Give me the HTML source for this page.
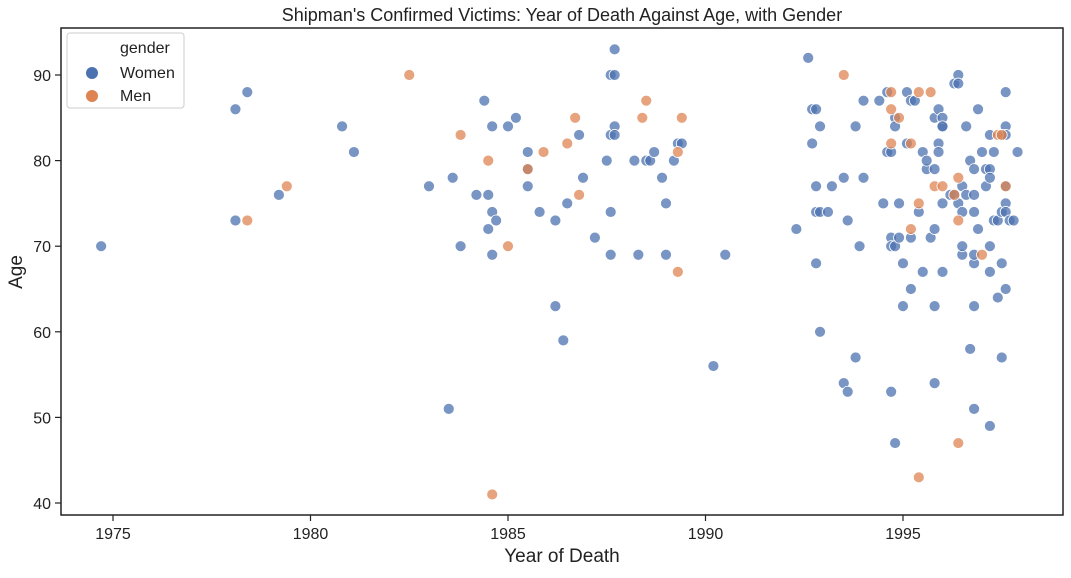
<!DOCTYPE html>
<html><head><meta charset="utf-8"><style>
body{margin:0;background:#fff;font-family:"Liberation Sans","DejaVu Sans",sans-serif}
svg text{font-family:"Liberation Sans","DejaVu Sans",sans-serif;fill:#222}
</style></head><body>
<svg id="c" width="1071" height="573">
<text x="562" y="21" font-size="18" text-anchor="middle">Shipman's Confirmed Victims: Year of Death Against Age, with Gender</text>
<g id="pts"></g>
<rect x="61" y="28" width="1002" height="487" fill="none" stroke="#222" stroke-width="1.5"/>
<g id="axes"></g>
<text x="562" y="562" font-size="19" text-anchor="middle">Year of Death</text>
<text x="22" y="272" font-size="19" text-anchor="middle" transform="rotate(-90 22 272)">Age</text>
<g>
<rect x="67" y="33" width="117" height="75" fill="#fff" fill-opacity="0.8" stroke="#ccc" rx="3"/>
<text x="120" y="53" font-size="16">gender</text>
<circle cx="92" cy="73" r="6" fill="#4c72b0"/><text x="120" y="78" font-size="16">Women</text>
<circle cx="92" cy="96" r="6" fill="#dd8452"/><text x="120" y="101" font-size="16">Men</text>
</g>
</svg>
<script>
const xTicks=[1975,1980,1985,1990,1995];
const yTicks=[40,50,60,70,80,90];
const womenYears=[1974.7,1978.1,1978.1,1978.4,1979.2,1980.8,1981.1,1983.0,1983.6,1983.5,1983.8,1984.2,1984.4,1984.5,1984.5,1984.6,1984.6,1984.6,1984.7,1985.0,1985.2,1985.5,1985.5,1985.5,1985.8,1986.2,1986.2,1986.4,1986.5,1986.8,1986.9,1987.2,1987.5,1987.6,1987.6,1987.6,1987.6,1987.7,1987.7,1987.7,1987.7,1988.2,1988.3,1988.5,1988.6,1988.7,1988.9,1989.0,1989.0,1989.2,1989.3,1989.4,1990.2,1990.5,1992.3,1992.6,1992.7,1992.7,1992.8,1992.8,1992.8,1992.8,1992.9,1992.9,1992.9,1993.1,1993.2,1993.5,1993.5,1993.6,1993.6,1993.8,1993.8,1993.9,1994.0,1994.0,1994.4,1994.5,1994.6,1994.6,1994.7,1994.7,1994.7,1994.7,1994.8,1994.8,1994.8,1994.9,1994.8,1994.9,1995.0,1995.0,1995.1,1995.1,1995.2,1995.2,1995.3,1995.2,1995.4,1995.5,1995.5,1995.6,1995.6,1995.7,1995.8,1995.8,1995.8,1995.8,1995.8,1995.9,1995.9,1995.9,1996.0,1996.0,1996.0,1996.0,1996.0,1996.2,1996.3,1996.3,1996.4,1996.4,1996.4,1996.5,1996.5,1996.5,1996.5,1996.6,1996.6,1996.7,1996.7,1996.8,1996.8,1996.8,1996.8,1996.8,1996.8,1996.8,1996.9,1996.9,1997.0,1997.1,1997.1,1997.2,1997.2,1997.2,1997.2,1997.2,1997.2,1997.3,1997.3,1997.4,1997.4,1997.5,1997.5,1997.5,1997.5,1997.6,1997.6,1997.6,1997.6,1997.6,1997.6,1997.6,1997.7,1997.8,1997.9];
const womenAges=[70,86,73,88,76,84,81,77,78,51,70,76,87,76,72,74,84,69,73,84,85,77,81,79,74,73,63,59,75,83,78,71,80,74,69,90,83,93,90,84,83,80,69,80,80,81,78,69,75,80,82,82,56,69,72,92,86,82,86,74,77,68,60,84,74,74,77,78,54,53,73,84,57,70,87,78,87,75,81,88,81,71,70,53,85,84,70,75,47,71,68,63,82,88,65,87,87,71,74,67,81,79,80,71,85,79,72,54,63,86,82,81,84,85,67,84,75,76,89,76,90,75,89,69,70,74,77,76,84,80,58,76,74,63,79,68,51,69,72,86,81,79,77,79,83,78,67,70,49,81,73,73,64,83,74,57,68,75,77,74,84,88,65,83,73,73,81];
const menYears=[1978.4,1979.4,1982.5,1983.8,1984.5,1984.6,1985.0,1985.5,1985.9,1986.5,1986.7,1986.8,1988.4,1988.5,1989.3,1989.4,1989.3,1993.5,1994.7,1994.7,1994.7,1994.9,1995.2,1995.2,1995.4,1995.4,1995.4,1995.7,1995.8,1996.0,1996.3,1996.4,1996.4,1996.4,1997.0,1997.4,1997.5,1997.6];
const menAges=[73,77,90,83,80,41,70,79,81,82,85,76,85,87,81,85,67,90,88,86,82,85,82,72,75,88,43,88,77,77,76,78,73,47,69,83,83,77];
const NS='http://www.w3.org/2000/svg';
const X0=61,X1=1063,Y0=28,Y1=515;
function xs(v){return 113+(v-1975)*39.5;}
function ys(v){return 503-(v-40)*8.56;}
const ax=document.getElementById('axes'),pts=document.getElementById('pts');
function mk(t,a,p){const e=document.createElementNS(NS,t);for(const k in a)e.setAttribute(k,a[k]);p.appendChild(e);return e;}
xTicks.forEach(t=>{const x=xs(t);
 const l=mk('line',{x1:x,x2:x,y1:Y1,y2:Y1+6,stroke:'#222','stroke-width':1.2},ax);
 
 
 const tx=mk('text',{x:x,y:Y1+24,'font-size':16,'text-anchor':'middle'},ax);tx.textContent=t;
 
 });
yTicks.forEach(t=>{const y=ys(t);
 const l=mk('line',{x1:X0-6,x2:X0,y1:y,y2:y,stroke:'#222','stroke-width':1.2},ax);
 
 
 const tx=mk('text',{x:X0-10,y:y+6,'font-size':16,'text-anchor':'end'},ax);tx.textContent=t;
 
 });
function plot(yrs,ages,col,name){yrs.forEach((v,i)=>{
 const c=mk('circle',{cx:xs(v),cy:ys(ages[i]),r:5.5,fill:col,'fill-opacity':0.75,stroke:'#fff','stroke-width':0.8},pts);
 
 });}
plot(womenYears,womenAges,'#4c72b0','point-women');
plot(menYears,menAges,'#dd8452','point-men');
</script>
</body></html>
